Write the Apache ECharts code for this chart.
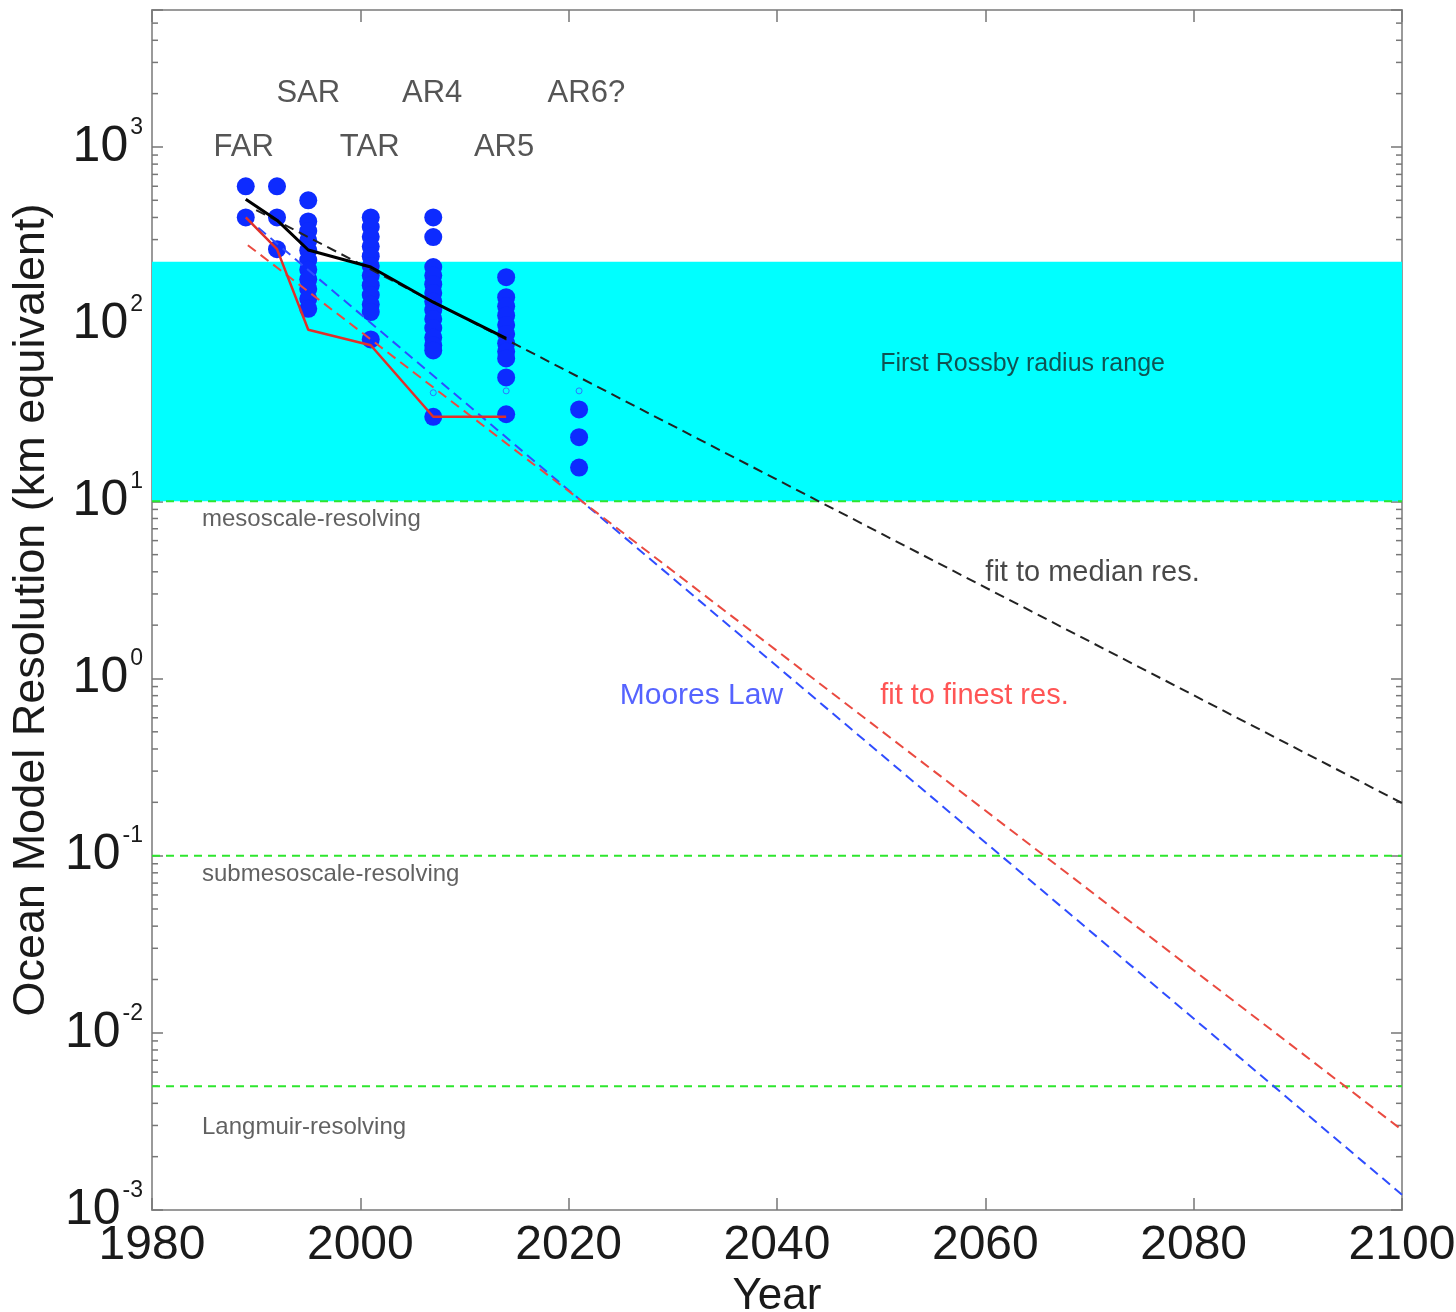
<!DOCTYPE html>
<html>
<head>
<meta charset="utf-8">
<title>Ocean model resolution</title>
<script src="https://cdn.jsdelivr.net/npm/echarts@6/dist/echarts.min.js"></script>
<style>
  html, body { margin: 0; padding: 0; background: #fff; }
  #chart { width: 1456px; height: 1312px; }
</style>
</head>
<body>
<div id="chart"></div>
<script>
// IPCC report years and model resolutions (km)
var dotYears = [1989, 1992, 1995, 2001, 2007, 2014, 2021];
var dotValues = [
  [600, 400],
  [600, 400, 265],
  [500, 380, 335, 296, 261, 230, 203, 179, 158, 139, 122],
  [400, 353, 311, 274, 242, 213, 188, 166, 146, 129, 117, 82],
  [400, 310, 210, 188, 168, 150, 134, 120, 107, 95, 84, 76, 71, 30],
  [184, 142, 126, 112, 99, 88, 78, 70, 64, 50, 31],
  [33, 23, 15.5]
];
// faint open rings
var ringYears = [2007, 2014, 2021];
var ringValues = [41, 42, 42];

// median and finest resolution per report
var reportYears = [1989, 1992, 1995, 2001, 2007, 2014];
var medianRes = [507, 386, 262, 210, 133, 83];
var finestRes = [400, 265, 93, 76, 30, 30];

// fitted trends (end points)
var medianFitYears = [1990, 2100];
var medianFitValues = [440, 0.198];
var mooreYears = [1990.2, 2100];
var mooreValues = [350, 0.00122];
var finestFitYears = [1989.2, 2100];
var finestFitValues = [279, 0.00283];

// reference scales
var rossbyRange = [10, 225];
var scaleLevels = [10, 0.1, 0.005];

var yearTicks = [1980, 2000, 2020, 2040, 2060, 2080, 2100];
var decadeTicks = [-3, -2, -1, 0, 1, 2, 3];

var FONT = "'Liberation Sans', Arial, Helvetica, sans-serif";
var LOGMAX = 3.773;

function lg(v) { return Math.log10(v); }

// log-scale minor tick positions
var minorTicks = [];
decadeTicks.forEach(function (n) {
  for (var k = 2; k <= 9; k++) {
    var t = n + lg(k);
    if (t < LOGMAX) minorTicks.push([t]);
  }
});

var dotData = [];
dotYears.forEach(function (y, i) {
  dotValues[i].forEach(function (v) { dotData.push([y, lg(v)]); });
});
var ringData = ringYears.map(function (y, i) { return [y, lg(ringValues[i])]; });

function pairs(xs, vs) {
  return xs.map(function (x, i) { return [x, lg(vs[i])]; });
}

// text notes: [text, year, log10 value, align, size, color]
var notes = [
  ["FAR", 1988.8, 3.0, "center", 31, "#2a2a2a"],
  ["SAR", 1995, 3.303, "center", 31, "#2a2a2a"],
  ["TAR", 2000.9, 3.0, "center", 31, "#2a2a2a"],
  ["AR4", 2006.9, 3.303, "center", 31, "#2a2a2a"],
  ["AR5", 2013.8, 3.0, "center", 31, "#2a2a2a"],
  ["AR6?", 2021.7, 3.303, "center", 31, "#2a2a2a"],
  ["First Rossby radius range", 2049.9, 1.774, "left", 25, "#142828"],
  ["mesoscale-resolving", 1984.8, 0.9, "left", 24, "#3a3a3a"],
  ["submesoscale-resolving", 1984.8, -1.104, "left", 24, "#3a3a3a"],
  ["Langmuir-resolving", 1984.8, -2.532, "left", 24, "#3a3a3a"],
  ["fit to median res.", 2060, 0.595, "left", 29, "#1a1a1a"],
  ["Moores Law", 2024.9, -0.099, "left", 30, "#2a3cff"],
  ["fit to finest res.", 2049.9, -0.099, "left", 29, "#ff2a2a"]
];

var chart = echarts.init(document.getElementById("chart"), null, { renderer: "canvas" });

var frameLine = { show: true, onZero: false, lineStyle: { color: "#9a9a9a", width: 2 } };

var series = [];

// minor log ticks on both sides
series.push({
  type: "custom",
  z: 1,
  silent: true,
  xAxisIndex: 0,
  yAxisIndex: 0,
  data: minorTicks,
  renderItem: function (params, api) {
    var l = api.coord([1980, api.value(0)]);
    var r = api.coord([2100, api.value(0)]);
    var st = { stroke: "#777", lineWidth: 1.5 };
    return {
      type: "group",
      children: [
        { type: "line", shape: { x1: l[0], y1: l[1], x2: l[0] + 6, y2: l[1] }, style: st },
        { type: "line", shape: { x1: r[0], y1: r[1], x2: r[0] - 6, y2: r[1] }, style: st }
      ]
    };
  }
});

// Rossby radius band
series.push({
  type: "custom",
  z: 2,
  silent: true,
  data: [[1980, 2100, lg(rossbyRange[0]), lg(rossbyRange[1])]],
  renderItem: function (params, api) {
    var p0 = api.coord([api.value(0), api.value(3)]);
    var p1 = api.coord([api.value(1), api.value(2)]);
    return {
      type: "rect",
      shape: { x: p0[0], y: p0[1], width: p1[0] - p0[0], height: p1[1] - p0[1] },
      style: { fill: "#00ffff" }
    };
  }
});

// resolving scale lines
scaleLevels.forEach(function (v) {
  series.push({
    type: "line",
    z: 3,
    silent: true,
    symbol: "none",
    data: [[1980, lg(v)], [2100, lg(v)]],
    lineStyle: { color: "#2ee62e", width: 2, type: [8, 6] }
  });
});

// dots
series.push({
  type: "scatter",
  z: 4,
  data: dotData,
  symbolSize: 18,
  itemStyle: { color: "#0d2bff", opacity: 1 }
});
series.push({
  type: "scatter",
  z: 4,
  data: ringData,
  symbolSize: 6,
  itemStyle: { color: "rgba(0,0,0,0)", borderColor: "#3a55ff", borderWidth: 1 }
});

// trend fits
[[medianFitYears, medianFitValues, "#222"],
 [mooreYears, mooreValues, "#2f4dff"],
 [finestFitYears, finestFitValues, "#ea4a40"]].forEach(function (f) {
  series.push({
    type: "line",
    z: 5,
    silent: true,
    symbol: "none",
    data: pairs(f[0], f[1]),
    lineStyle: { color: f[2], width: 2, type: [10, 6] }
  });
});

// median and finest lines
series.push({
  type: "line",
  z: 6,
  symbol: "none",
  data: pairs(reportYears, medianRes),
  lineStyle: { color: "#000", width: 3 }
});
series.push({
  type: "line",
  z: 6,
  symbol: "none",
  data: pairs(reportYears, finestRes),
  lineStyle: { color: "#e0302a", width: 2.5 }
});

// text notes
series.push({
  type: "scatter",
  z: 7,
  silent: true,
  symbolSize: 0,
  data: notes.map(function (n) {
    return {
      value: [n[1], n[2]],
      label: {
        show: true,
        position: n[3] === "left" ? "right" : "inside",
        distance: 0,
        formatter: n[0],
        fontFamily: FONT,
        fontSize: n[4],
        color: n[5]
      }
    };
  })
});

var option = {
  backgroundColor: "#fff",
  animation: false,
  grid: { left: 152, right: 54, top: 10, bottom: 102, outerBoundsMode: "none", containLabel: false },
  xAxis: [
    {
      type: "value",
      min: yearTicks[0],
      max: yearTicks[yearTicks.length - 1],
      interval: 20,
      position: "bottom",
      axisLine: frameLine,
      axisTick: { show: true, inside: true, length: 12, lineStyle: { color: "#777", width: 1.5 } },
      axisLabel: {
        fontFamily: FONT, fontSize: 48, color: "#1a1a1a", margin: 12,
        formatter: function (v) { return String(v); }
      },
      splitLine: { show: false },
      name: "Year",
      nameLocation: "middle",
      nameGap: 60,
      nameTextStyle: { fontFamily: FONT, fontSize: 44, color: "#1a1a1a" }
    },
    {
      type: "value",
      min: yearTicks[0],
      max: yearTicks[yearTicks.length - 1],
      interval: 20,
      position: "top",
      axisLine: frameLine,
      axisTick: { show: true, inside: true, length: 12, lineStyle: { color: "#777", width: 1.5 } },
      axisLabel: { show: false },
      splitLine: { show: false }
    }
  ],
  yAxis: [
    {
      type: "value",
      min: -3,
      max: LOGMAX,
      interval: 1,
      position: "left",
      axisLine: frameLine,
      axisTick: { show: true, inside: true, length: 11, lineStyle: { color: "#777", width: 1.5 } },
      axisLabel: {
        margin: 9,
        formatter: function (v) {
          if (Math.abs(v - Math.round(v)) > 1e-6) return "";
          return "{b|10}{s|" + Math.round(v) + "}";
        },
        rich: {
          b: { fontFamily: FONT, fontSize: 50, lineHeight: 62, color: "#1a1a1a" },
          s: { fontFamily: FONT, fontSize: 23, color: "#1a1a1a", verticalAlign: "top", padding: [0, 0, 0, 2] }
        }
      },
      splitLine: { show: false },
      name: "Ocean Model Resolution (km equivalent)",
      nameLocation: "middle",
      nameGap: 94,
      nameTextStyle: { fontFamily: FONT, fontSize: 45, color: "#1a1a1a" }
    },
    {
      type: "value",
      min: -3,
      max: LOGMAX,
      interval: 1,
      position: "right",
      axisLine: frameLine,
      axisTick: { show: true, inside: true, length: 11, lineStyle: { color: "#777", width: 1.5 } },
      axisLabel: { show: false },
      splitLine: { show: false }
    }
  ],
  series: series
};

chart.setOption(option);
</script>
</body>
</html>
